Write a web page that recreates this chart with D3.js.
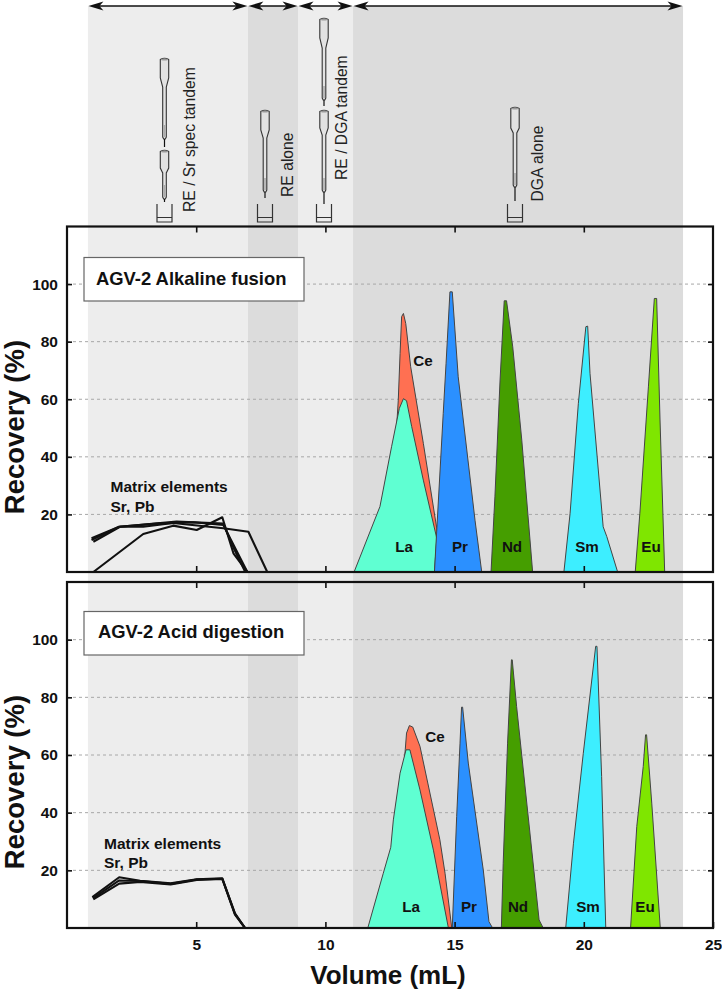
<!DOCTYPE html>
<html><head><meta charset="utf-8">
<script src="https://cdn.jsdelivr.net/npm/d3@7"></script>
<style>html,body{margin:0;padding:0;background:#fff}svg{display:block}text{font-family:"Liberation Sans",Arial,sans-serif;fill:#111}</style>
</head><body><div id="c"></div>
<script>
const xTicks=[5,10,15,20,25];
const yTicks=[20,40,60,80,100];
const bandEdges=[0.81,7.0,8.94,11.07,23.84];
const bandColors=["#ededed","#dcdcdc","#ededed","#dcdcdc"];
const peakColors={La:"#5fffd2",Ce:"#ff7052",Pr:"#2b90ff",Nd:"#459e00",Sm:"#3deeff",Eu:"#7fe600"};

const fusionCe=[[12.41,0],[12.82,59.7],[12.89,75.9],[12.95,88.7],[13.02,89.8],[13.11,86.3],[13.30,71.3],[13.79,44.7],[14.33,14],[14.6,0]];
const fusionLa=[[11.11,0],[12.11,22.7],[12.56,43.5],[12.86,56.8],[13.02,60.2],[13.14,59.5],[13.34,50.5],[13.79,31.9],[14.31,11.7],[14.22,0]];
const fusionPr=[[14.22,0],[14.56,55.1],[14.67,72.5],[14.82,97.3],[14.91,97.3],[15.14,67.8],[15.79,18],[16.05,0]];
const fusionNd=[[16.41,0],[16.56,26.1],[16.76,66.7],[16.92,94.2],[17.01,94.2],[17.25,78.2],[17.6,45.8],[18.02,0]];
const fusionSm=[[19.23,0],[19.47,20.4],[19.79,58.6],[20.08,85.2],[20.15,85.4],[20.24,69],[20.75,15.7],[20.89,12.3],[21.31,0]];
const fusionEu=[[21.99,0],[22.17,20.4],[22.5,64.3],[22.73,95],[22.82,95],[22.95,52.8],[23.13,0]];

const acidCe=[[12.6,0],[13.09,61.8],[13.14,67.6],[13.25,70.2],[13.38,69.7],[13.66,63],[14.43,30.6],[14.63,19],[14.89,0]];
const acidLa=[[11.64,0],[12.24,19],[12.53,28],[12.63,37.5],[12.89,53.7],[13.12,61.8],[13.27,61.8],[13.66,47.9],[14.18,27],[14.76,0]];
const acidPr=[[14.91,0],[15.08,38.6],[15.21,64.1],[15.27,76.6],[15.31,76.6],[15.53,57.2],[16.11,20.1],[16.33,2.2],[16.47,0]];
const acidNd=[[16.81,0],[16.88,22.4],[17.05,64.1],[17.2,93],[17.23,93],[17.4,76.8],[18.27,2.8],[18.43,0]];
const acidSm=[[19.3,0],[19.6,29.4],[19.98,60.6],[20.46,97.7],[20.51,97.7],[20.69,52.5],[20.85,0]];
const acidEu=[[21.81,0],[22.05,35.2],[22.3,56],[22.39,67],[22.43,67],[22.63,43.3],[22.96,0]];

const fusionMatrixA=[[1.02,0],[2.95,13.2],[4.11,16.1],[5.02,14.6],[6.01,19],[6.44,6.5],[6.98,0]];
const fusionMatrixB=[[0.95,11.7],[2.02,15.7],[3.6,16.9],[4.89,17.3],[6.05,16.3],[6.98,0]];
const fusionMatrixC=[[1.02,10.5],[2.05,15.7],[2.95,15.7],[4.11,17],[6.05,15.2],[7.02,14],[7.75,0]];
const fusionMatrixD=[[0.95,11.1],[2.02,15.7],[4.24,17.5],[6.05,16.8],[6.44,8.5],[6.9,0]];

const acidMatrixA=[[0.98,10.7],[2.02,17.6],[2.83,16.4],[4.01,15.5],[5.02,16.9],[6.01,17.2],[6.5,5.1],[6.89,0]];
const acidMatrixB=[[1.02,9.9],[2.02,15.4],[2.83,16],[4.01,15.1],[5.02,16.7],[6.01,17],[6.5,4.6],[6.89,0]];
const acidMatrixC=[[1.0,10.3],[2.02,16.5],[2.83,16.3],[4.01,15.3],[5.02,16.8],[6.01,17.1],[6.5,4.9],[6.89,0]];

const svg=d3.select("#c").append("svg").attr("width",722).attr("height",992);
const x=d3.scaleLinear([0,25],[67,713]);
const panels=[
 {y:d3.scaleLinear([0,120],[572,226.5]),box:[84,257.5,220,43.5],title:"AGV-2 Alkaline fusion",tx:96,ty:285,tc:427,
  ce:fusionCe,peaks:[["La",fusionLa],["Pr",fusionPr],["Nd",fusionNd],["Sm",fusionSm],["Eu",fusionEu]],matrix:[fusionMatrixA,fusionMatrixB,fusionMatrixC,fusionMatrixD],
  mx:110.5,my:[492,511.5],lblY:552,lbl:{La:404,Pr:460,Nd:512,Sm:587,Eu:651},ce_l:[423,366]},
 {y:d3.scaleLinear([0,120],[928,582]),box:[84,611.5,220,43.5],title:"AGV-2 Acid digestion",tx:98,ty:638,tc:782,
  ce:acidCe,peaks:[["La",acidLa],["Pr",acidPr],["Nd",acidNd],["Sm",acidSm],["Eu",acidEu]],matrix:[acidMatrixA,acidMatrixB,acidMatrixC],
  mx:104,my:[849,868],lblY:912,lbl:{La:411,Pr:469,Nd:518,Sm:588,Eu:645},ce_l:[435,742]}
];

// bands
svg.append("g").selectAll("rect").data(bandColors).join("rect")
 .attr("x",(d,i)=>x(bandEdges[i])).attr("width",(d,i)=>x(bandEdges[i+1])-x(bandEdges[i]))
 .attr("y",6).attr("height",922).attr("fill",d=>d);

// arrows
function arrow(x0,x1,y){
 const g=svg.append("g");
 g.append("line").attr("x1",x0+6).attr("x2",x1-6).attr("y1",y).attr("y2",y).attr("stroke","#111").attr("stroke-width",1.4);
 const head=(t,dir)=>`M${t},${y}L${t+dir*15},${y-4.5}L${t+dir*11},${y}L${t+dir*15},${y+4.5}Z`;
 g.append("path").attr("d",head(x0,1)+head(x1,-1)).attr("fill","#111");
}
bandColors.forEach((c,i)=>arrow(x(bandEdges[i])+0.5,x(bandEdges[i+1])-0.5,6));

// tubes: [cx, top, reservoirEnd, neckEnd, columnEnd, tipEnd]
const tubes=[[164.5,58,78,87,137,147],[164.5,150,168,173,197,202],[265,110,130,138,190,198],[324,18,38,48,98,106],[324,110,128,135,190,204],[515,107,128,133,185,201]];
const beakers=[164.5,265,324,515];
const tg=svg.append("g");
tubes.forEach(([c,t,r,n,k,e])=>{
 tg.append("path").attr("d",`M${c-4.2},${t+1.5}Q${c},${t-1} ${c+4.2},${t+1.5}L${c+4.2},${r}L${c+1.8},${n}L${c+1.8},${k}L${c+0.8},${k+2}L${c-0.8},${k+2}L${c-1.8},${k}L${c-1.8},${n}L${c-4.2},${r}Z`)
  .attr("fill","#e2e2e2").attr("stroke","#333").attr("stroke-width",1.1);
 tg.append("ellipse").attr("cx",c).attr("cy",t+1.5).attr("rx",3.6).attr("ry",1).attr("fill","#999");
 tg.append("line").attr("x1",c).attr("x2",c).attr("y1",k-12).attr("y2",k).attr("stroke","#aaa").attr("stroke-width",1.5);
 tg.append("line").attr("x1",c).attr("x2",c).attr("y1",k+2).attr("y2",e).attr("stroke","#111").attr("stroke-width",1.2);
});
beakers.forEach(c=>{
 tg.append("path").attr("d",`M${c-7.5},204L${c-7.5},222L${c+7.5},222L${c+7.5},204M${c-7.5},217.5L${c+7.5},217.5`).attr("fill","none").attr("stroke","#333").attr("stroke-width",1.2);
});
const vtext=[["RE / Sr spec tandem",194.5,212],["RE alone",292.5,197],["RE / DGA tandem",347,180],["DGA alone",543,201.5]];
svg.append("g").selectAll("text").data(vtext).join("text")
 .attr("transform",d=>`translate(${d[1]},${d[2]}) rotate(-90)`).attr("font-size",15.7).text(d=>d[0]).style("fill","#222");

const line=y=>d3.line().x(d=>x(d[0])).y(d=>y(d[1]));
panels.forEach(p=>{
 const g=svg.append("g");
 // grid
 g.append("g").selectAll("line").data(yTicks).join("line")
  .attr("x1",x(0)).attr("x2",x(25)).attr("y1",d=>p.y(d)).attr("y2",d=>p.y(d))
  .attr("stroke","#a8a8a8").attr("stroke-width",1).attr("stroke-dasharray","3 3");
 // peaks
 g.append("path").attr("d",line(p.y)(p.ce)+"Z").attr("fill",peakColors.Ce).attr("stroke","#444").attr("stroke-width",1);
 p.peaks.forEach(([k,v])=>{
  g.append("path").attr("d",line(p.y)(v)+"Z").attr("fill",peakColors[k]).attr("stroke","#444").attr("stroke-width",1);
 });
 // matrix lines
 p.matrix.forEach(v=>g.append("path").attr("d",line(p.y)(v)).attr("fill","none").attr("stroke","#111").attr("stroke-width",2.1).attr("stroke-linejoin","round"));
 // box
 g.append("rect").attr("x",p.box[0]).attr("y",p.box[1]).attr("width",p.box[2]).attr("height",p.box[3]).attr("fill","#fff").attr("stroke","#666").attr("stroke-width",1.2);
 g.append("text").attr("x",p.tx).attr("y",p.ty).attr("font-size",18.4).attr("font-weight","bold").text(p.title);
 // matrix label
 g.append("text").attr("x",p.mx).attr("y",p.my[0]).attr("font-size",15.5).attr("font-weight","bold").text("Matrix elements");
 g.append("text").attr("x",p.mx).attr("y",p.my[1]).attr("font-size",15.5).attr("font-weight","bold").text("Sr, Pb");
 // peak labels
 Object.entries(p.lbl).forEach(([k,lx])=>g.append("text").attr("x",lx).attr("y",p.lblY).attr("text-anchor","middle").attr("font-size",15.2).attr("font-weight","bold").text(k));
 g.append("text").attr("x",p.ce_l[0]).attr("y",p.ce_l[1]).attr("text-anchor","middle").attr("font-size",15.2).attr("font-weight","bold").text("Ce");
 // axes
 const [y0,y1]=p.y.range();
 const style=a=>{a.select(".domain").remove();a.selectAll(".tick line").attr("stroke","#111").attr("stroke-width",1.6);a.selectAll("text").attr("font-size",15.5).attr("font-weight","bold").attr("font-family","Liberation Sans");};
 g.append("g").attr("transform",`translate(${x(0)},0)`).call(d3.axisLeft(p.y).tickValues(yTicks).tickSize(-5).tickPadding(9)).call(style);
 g.append("g").attr("transform",`translate(${x(25)},0)`).call(d3.axisRight(p.y).tickValues(yTicks).tickSize(-5).tickFormat("")).call(style);
 g.append("g").attr("transform",`translate(0,${y1})`).call(d3.axisTop(x).tickValues(xTicks.slice(0,4)).tickSize(-6).tickFormat("")).call(style);
 const isLast=p===panels[1];
 g.append("g").attr("transform",`translate(0,${y0})`).call(d3.axisBottom(x).tickValues(isLast?xTicks:xTicks.slice(0,4)).tickSize(-6).tickPadding(11).tickFormat(isLast?d3.format("d"):"")).call(style);
 g.append("rect").attr("x",x(0)).attr("y",y1).attr("width",x(25)-x(0)).attr("height",y0-y1).attr("fill","none").attr("stroke","#111").attr("stroke-width",2.2);
 // y title
 g.append("text").attr("transform",`translate(24,${p.tc}) rotate(-90)`).attr("text-anchor","middle").attr("font-size",27.5).attr("font-weight","bold").text("Recovery (%)");
});
svg.append("text").attr("x",388).attr("y",984).attr("text-anchor","middle").attr("font-size",26).attr("font-weight","bold").text("Volume (mL)");
</script></body></html>
